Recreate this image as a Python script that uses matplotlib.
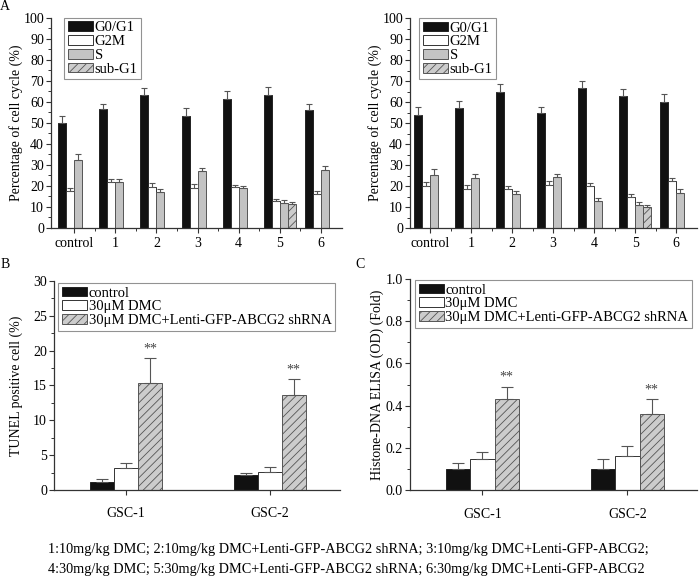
import matplotlib
matplotlib.use("Agg")
import matplotlib.pyplot as plt
import numpy as np

plt.rcParams['font.family'] = ['Liberation Serif', 'DejaVu Serif']
plt.rcParams['hatch.linewidth'] = 0.6

# ---------------- data ----------------
cats_top = ['control', '1', '2', '3', '4', '5', '6']
phases = ['G0/G1', 'G2M', 'S', 'sub-G1']

left_g0 = [50.0, 56.6, 63.3, 53.4, 61.5, 63.4, 56.0]
left_g0_err = [3.2, 2.3, 3.3, 3.6, 3.6, 3.7, 2.9]
left_g2m = [17.4, 21.8, 19.4, 19.0, 19.4, 12.8, 16.3]
left_g2m_err = [1.5, 1.6, 2.0, 1.8, 1.1, 1.0, 1.2]
left_s = [32.4, 21.8, 17.2, 27.2, 19.1, 12.1, 27.6]
left_s_err = [2.6, 1.6, 1.5, 1.3, 1.1, 1.1, 1.8]
left_sub = [0, 0, 0, 0, 0, 11.6, 0]
left_sub_err = [0, 0, 0, 0, 0, 0.9, 0]

right_g0 = [54.1, 57.4, 64.9, 55.0, 66.5, 63.0, 60.1]
right_g0_err = [3.6, 3.3, 3.5, 2.6, 3.5, 3.3, 3.7]
right_g2m = [20.3, 18.8, 18.8, 20.5, 20.0, 15.1, 22.6]
right_g2m_err = [1.6, 1.7, 1.4, 1.9, 1.5, 1.3, 1.4]
right_s = [25.3, 23.7, 16.2, 24.2, 13.0, 11.3, 17.0]
right_s_err = [3.0, 2.1, 1.3, 1.6, 1.5, 1.3, 1.8]
right_sub = [0, 0, 0, 0, 0, 10.3, 0]
right_sub_err = [0, 0, 0, 0, 0, 0.7, 0]

cats_bot = ['GSC-1', 'GSC-2']
groups_bot = ['control', '30μM DMC', '30μM DMC+Lenti-GFP-ABCG2 shRNA']
tunel_control = [1.2, 2.1]
tunel_control_err = [0.4, 0.3]
tunel_dmc = [3.2, 2.6]
tunel_dmc_err = [0.7, 0.65]
tunel_sh = [15.3, 13.6]
tunel_sh_err = [3.6, 2.3]

elisa_control = [0.10, 0.10]
elisa_control_err = [0.03, 0.05]
elisa_dmc = [0.15, 0.16]
elisa_dmc_err = [0.03, 0.05]
elisa_sh = [0.43, 0.36]
elisa_sh_err = [0.06, 0.07]

caption1 = "1:10mg/kg DMC; 2:10mg/kg DMC+Lenti-GFP-ABCG2 shRNA; 3:10mg/kg DMC+Lenti-GFP-ABCG2;"
caption2 = "4:30mg/kg DMC; 5:30mg/kg DMC+Lenti-GFP-ABCG2 shRNA; 6:30mg/kg DMC+Lenti-GFP-ABCG2"

# ---------------- styles ----------------
BLACK = '#111111'
GRAY = '#c3c3c3'
HGRAY = '#cccccc'
EDGE_G = '#555555'
ERR_C = '#555555'
FS = 10

styles = [
    dict(color=BLACK, edgecolor='#222222', hatch=None),
    dict(color='white', edgecolor='#333333', hatch=None),
    dict(color=GRAY, edgecolor=EDGE_G, hatch=None),
    dict(color=HGRAY, edgecolor=EDGE_G, hatch='////'),
]

fig = plt.figure(figsize=(7.0, 5.79), dpi=100)


def style_axes(ax):
    for s in ['top', 'right']:
        ax.spines[s].set_visible(False)
    for s in ['left', 'bottom']:
        ax.spines[s].set_color('#333333')
        ax.spines[s].set_linewidth(0.9)
    ax.tick_params(axis='both', which='major', direction='out', length=3.5,
                   width=0.8, color='#333333', labelsize=FS, pad=1.5)
    ax.tick_params(axis='both', which='minor', direction='out', length=2,
                   width=0.7, color='#333333')


def add_legend(ax, anchor):
    leg = ax.legend(loc='upper left', bbox_to_anchor=anchor, borderaxespad=0,
                    fontsize=FS + 0.5, frameon=True, fancybox=False,
                    handlelength=1.75, handleheight=0.65, handletextpad=0.1,
                    labelspacing=0.05, borderpad=0.25)
    leg.get_frame().set_edgecolor('#777777')
    leg.get_frame().set_linewidth(0.8)


def top_panel(rect, series, errs, xlim, anchor):
    ax = fig.add_axes(rect)
    x = np.arange(len(cats_top))
    w = 0.194
    offs = [-1.5, -0.5, 0.5, 1.5]
    for i, (vals, err) in enumerate(zip(series, errs)):
        st = styles[i]
        vals = np.array(vals, dtype=float)
        err = np.array(err, dtype=float)
        mask = vals > 0
        ax.bar(x[mask] + offs[i] * w, vals[mask], w, color=st['color'],
               edgecolor=st['edgecolor'], hatch=st['hatch'], linewidth=0.7,
               label=phases[i], zorder=2)
        ax.errorbar(x[mask] + offs[i] * w, vals[mask],
                    yerr=[np.zeros(mask.sum()), err[mask]], fmt='none',
                    ecolor=ERR_C, elinewidth=0.8, capsize=2.2, capthick=0.8,
                    zorder=3)
    style_axes(ax)
    ax.set_xlim(*xlim)
    ax.set_ylim(0, 100)
    ax.set_yticks(np.arange(0, 101, 10))
    ax.set_yticks(np.arange(5, 100, 10), minor=True)
    ax.set_xticks(x)
    ax.set_xticklabels(cats_top)
    ax.set_xticks(x[:-1] + 0.5, minor=True)
    ax.tick_params(axis='x', which='major', pad=3)
    ax.set_ylabel('Percentage of cell cycle (%)', fontsize=FS, labelpad=0.5)
    add_legend(ax, anchor)
    return ax


axTL = top_panel([0.0729, 0.6062, 0.4157, 0.3632],
                 [left_g0, left_g2m, left_s, left_sub],
                 [left_g0_err, left_g2m_err, left_s_err, left_sub_err],
                 (-0.56, 6.51), (0.045, 1.0))
axTR = top_panel([0.5857, 0.6057, 0.4100, 0.3632],
                 [right_g0, right_g2m, right_s, right_sub],
                 [right_g0_err, right_g2m_err, right_s_err, right_sub_err],
                 (-0.49, 6.51), (0.031, 1.0))


def bottom_panel(rect, series, errs, ylim, yticks, yminor, ylabel, star_y,
                 anchor, xlim, labelpad):
    ax = fig.add_axes(rect)
    x = np.arange(len(cats_bot))
    w = 0.167
    offs = [-1, 0, 1]
    for i, (vals, err) in enumerate(zip(series, errs)):
        st = styles[[0, 1, 3][i]]
        ax.bar(x + offs[i] * w, vals, w, color=st['color'],
               edgecolor=st['edgecolor'], hatch=st['hatch'], linewidth=0.7,
               label=groups_bot[i], zorder=2)
        ax.errorbar(x + offs[i] * w, vals, yerr=[np.zeros(len(vals)), err],
                    fmt='none', ecolor=ERR_C, elinewidth=0.8, capsize=4,
                    capthick=0.8, zorder=3)
    for xi, (v, e) in enumerate(zip(series[2], errs[2])):
        ax.text(xi + w, v + e + star_y, '**', ha='center', va='bottom',
                fontsize=FS, color='#444444')
    style_axes(ax)
    ax.set_xlim(*xlim)
    ax.set_ylim(*ylim)
    ax.set_yticks(yticks)
    ax.set_yticks(yminor, minor=True)
    ax.set_xticks(x)
    ax.set_xticklabels(cats_bot)
    ax.tick_params(axis='x', which='major', pad=9)
    ax.set_ylabel(ylabel, fontsize=FS, labelpad=labelpad)
    add_legend(ax, anchor)
    return ax


axBL = bottom_panel([0.0771, 0.1537, 0.4086, 0.3610],
                    [tunel_control, tunel_dmc, tunel_sh],
                    [tunel_control_err, tunel_dmc_err, tunel_sh_err],
                    (0, 30), np.arange(0, 31, 5), np.arange(2.5, 30, 5),
                    'TUNEL positive cell (%)', 0.4, (0.014, 0.99), (-0.5, 1.49),
                    7)
axBR = bottom_panel([0.5857, 0.1532, 0.4100, 0.3650],
                    [elisa_control, elisa_dmc, elisa_sh],
                    [elisa_control_err, elisa_dmc_err, elisa_sh_err],
                    (0, 1.0), np.arange(0, 1.01, 0.2), np.arange(0.1, 1.0, 0.2),
                    'Histone-DNA ELISA (OD) (Fold)', 0.015, (0.017, 0.995),
                    (-0.5, 1.48), 1)
axBR.set_yticklabels([f'{v:.1f}' for v in np.arange(0, 1.01, 0.2)])

# panel letters
fig.text(5 / 700, 1 - 7 / 579, 'A', fontsize=FS, ha='center', va='center')
fig.text(5 / 700, 1 - 265 / 579, 'B', fontsize=FS, ha='center', va='center')
fig.text(360 / 700, 1 - 264 / 579, 'C', fontsize=FS, ha='center', va='center')

# caption
fig.text(48 / 700, 1 - 549 / 579, caption1, fontsize=10.3, ha='left', va='center')
fig.text(48 / 700, 1 - 570 / 579, caption2, fontsize=10.3, ha='left', va='center')

fig.savefig('out.png', dpi=100)
